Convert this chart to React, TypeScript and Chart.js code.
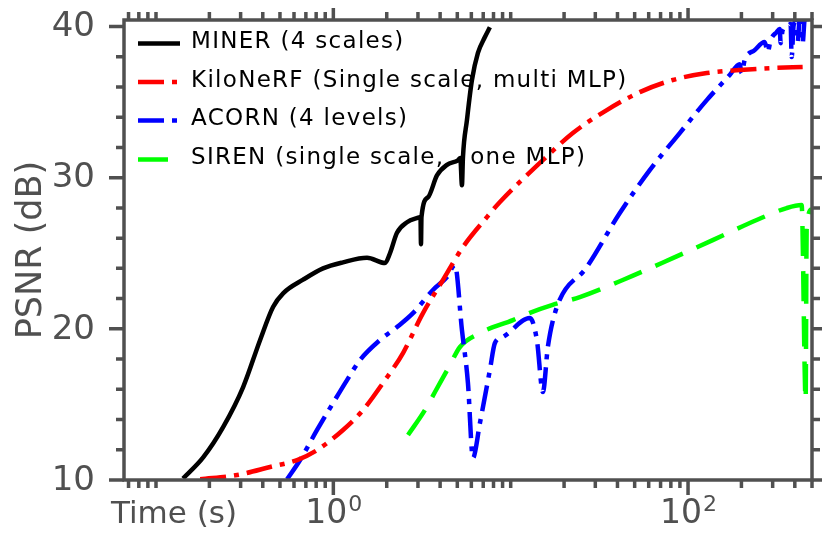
import React, { useEffect, useRef } from "react";
import { Chart, registerables } from "chart.js";

Chart.register(...registerables);

// ---------------- data ----------------
const minerTime = [0.142, 0.1845, 0.239, 0.31, 0.386, 0.457, 0.521, 0.675, 0.875, 1.134, 1.548, 1.956, 2.086, 2.285, 2.602, 3.0, 3.1, 3.12, 3.14, 3.416, 3.839, 4.371, 5.041, 5.2, 5.31, 5.38, 5.665, 6.045, 6.535, 7.155, 7.634];
const minerPsnr = [10.1, 11.5, 13.5, 16.15, 19.25, 21.45, 22.35, 23.25, 24.0, 24.4, 24.7, 24.35, 25.0, 26.35, 27.05, 27.35, 27.4, 25.6, 27.4, 28.7, 30.15, 30.85, 31.15, 31.3, 29.5, 31.35, 33.8, 36.45, 38.25, 39.3, 39.95];

const kiloTime = [0.1775, 0.2867, 0.4397, 0.6245, 0.8095, 1.134, 1.47, 1.905, 2.47, 3.202, 4.15, 5.379, 7.343, 8.696, 15.19, 22.41, 34.83, 53.44, 82.0, 127.5, 195.6, 300.1, 442.9];
const kiloPsnr = [10.05, 10.33, 10.86, 11.32, 11.98, 13.31, 14.63, 16.42, 18.4, 21.04, 23.23, 25.41, 27.39, 28.39, 31.16, 32.95, 34.47, 35.66, 36.46, 36.92, 37.12, 37.25, 37.32];

const acornTime = [0.5484, 0.6494, 0.8095, 0.9961, 1.194, 1.414, 1.833, 2.285, 2.812, 3.645, 4.371, 4.849, 5.31, 5.74, 6.124, 6.707, 7.634, 8.147, 9.04, 12.83, 14.05, 15.19, 16.2, 18.21, 26.88, 41.23, 60.84, 89.79, 127.5, 171.8, 195.6, 200.7, 208.6, 237.5, 270.5, 281.2, 292.4, 316.0, 328.6, 332.9, 341.6, 364.6, 378.9, 383.9, 394.0, 409.7, 415.0, 425.9, 437.1, 442.9, 454.6, 472.6, 491.2];
const acornPsnr = [10.05, 11.32, 13.31, 15.09, 16.61, 17.94, 19.26, 20.12, 21.04, 22.57, 23.43, 24.22, 19.92, 16.42, 11.46, 13.77, 17.28, 19.06, 19.46, 20.71, 19.26, 15.82, 18.8, 21.44, 24.09, 27.66, 30.5, 32.95, 35.13, 36.79, 37.51, 36.92, 37.78, 38.44, 38.97, 38.31, 39.1, 39.63, 39.83, 38.9, 39.76, 40.03, 40.16, 37.98, 40.09, 40.36, 38.97, 40.42, 40.29, 38.9, 40.42, 40.49, 40.56];

const sirenTime = [2.636, 3.286, 3.741, 4.545, 5.174, 6.707, 10.29, 13.16, 17.07, 24.54, 42.86, 82.0, 137.8, 243.8, 359.8, 437.1, 460.4, 466.4, 497.5];
const sirenPsnr = [12.98, 14.63, 15.82, 17.61, 18.8, 19.72, 20.58, 21.11, 21.57, 22.1, 23.23, 24.68, 25.87, 27.2, 27.99, 28.19, 15.29, 26.53, 27.92];

const seriesLabels = [
  "MINER (4 scales)",
  "KiloNeRF (Single scale, multi MLP)",
  "ACORN (4 levels)",
  "SIREN (single scale,   one MLP)",
];

const yMajorTicks = [10, 20, 30, 40];
const yMinorTicks = [12, 14, 16, 18, 22, 24, 26, 28, 32, 34, 36, 38];
const xMajorTicks = [1, 100];
const xMajorBase = ["10", "10"];
const xMajorExp = ["0", "2"];
const xMinorTicks = [0.07, 0.08, 0.09, 0.1, 0.2, 0.3, 0.4, 0.5, 0.6, 0.7, 0.8, 0.9, 2, 3, 4, 5, 6, 7, 8, 9, 10, 20, 30, 40, 50, 60, 70, 80, 90, 200, 300, 400, 500];

const xTitle = "Time (s)";
const yTitle = "PSNR (dB)";

// ---------------- style ----------------
const AXIS = "#505050";
const FONT = "'DejaVu Sans', sans-serif";
const LW = 4.5;

const pairs = (xs: number[], ys: number[]) => xs.map((x, i) => ({ x, y: ys[i] }));

const decorPlugin = {
  id: "decor",
  afterDatasetsDraw(chart: any) {
    const { ctx, chartArea: a, scales } = chart;
    const xs = scales.x;
    const ys = scales.y;
    ctx.save();
    ctx.strokeStyle = AXIS;
    ctx.lineWidth = 3.5;
    ctx.lineCap = "butt";
    ctx.setLineDash([]);
    ctx.strokeRect(a.left, a.top, a.right - a.left, a.bottom - a.top);
    const MAJ = 15;
    const MIN = 8;
    ctx.beginPath();
    const yTick = (v: number, len: number) => {
      const p = ys.getPixelForValue(v);
      ctx.moveTo(a.left, p);
      ctx.lineTo(a.left - len, p);
      ctx.moveTo(a.right, p);
      ctx.lineTo(a.right + len, p);
    };
    const xTick = (v: number, len: number) => {
      const p = xs.getPixelForValue(v);
      ctx.moveTo(p, a.bottom);
      ctx.lineTo(p, a.bottom + len);
      ctx.moveTo(p, a.top);
      ctx.lineTo(p, a.top - len);
    };
    yMajorTicks.forEach((v) => yTick(v, MAJ));
    yMinorTicks.forEach((v) => yTick(v, MIN));
    xMajorTicks.forEach((v) => xTick(v, MAJ));
    xMinorTicks.forEach((v) => xTick(v, MIN));
    ctx.stroke();

    // y tick labels
    ctx.fillStyle = AXIS;
    ctx.font = `34px ${FONT}`;
    ctx.textAlign = "right";
    ctx.textBaseline = "middle";
    yMajorTicks.forEach((v) => {
      ctx.fillText(String(v), 87, ys.getPixelForValue(v) + 1);
    });

    // x tick labels with superscript
    const baseY = 515;
    xMajorTicks.forEach((v, i) => {
      const p = xs.getPixelForValue(v);
      ctx.font = `33px ${FONT}`;
      const w1 = ctx.measureText(xMajorBase[i]).width;
      ctx.font = `22px ${FONT}`;
      const w2 = ctx.measureText(xMajorExp[i]).width;
      const x0 = p - (w1 + w2) / 2;
      ctx.textAlign = "left";
      ctx.textBaseline = "alphabetic";
      ctx.font = `33px ${FONT}`;
      ctx.fillText(xMajorBase[i], x0, baseY);
      ctx.font = `22px ${FONT}`;
      ctx.fillText(xMajorExp[i], x0 + w1 + 1, baseY - 12);
    });

    // axis titles
    ctx.font = `31px ${FONT}`;
    ctx.textAlign = "left";
    ctx.textBaseline = "alphabetic";
    ctx.fillText(xTitle, 103, baseY);

    ctx.save();
    ctx.translate(33, (a.top + a.bottom) / 2);
    ctx.rotate(-Math.PI / 2);
    ctx.textAlign = "center";
    ctx.font = `35px ${FONT}`;
    ctx.fillText(yTitle, 0, 0);
    ctx.restore();

    // legend
    const rows = [32, 70.5, 109, 148];
    chart.data.datasets.forEach((ds: any, i: number) => {
      const cy = rows[i];
      ctx.beginPath();
      ctx.strokeStyle = ds.borderColor;
      ctx.lineWidth = LW;
      ctx.setLineDash(ds.borderDash || []);
      ctx.moveTo(130, cy + 3.5);
      ctx.lineTo(i === 3 ? 162 : 172, cy + 3.5);
      ctx.stroke();
      ctx.setLineDash([]);
      ctx.fillStyle = "#000000";
      ctx.font = `23px ${FONT}`;
      ctx.textAlign = "left";
      ctx.textBaseline = "alphabetic";
      (ctx as any).letterSpacing = "1.3px";
      ctx.fillText(ds.label, 183, cy + 8.4);
      (ctx as any).letterSpacing = "0px";
    });
    ctx.restore();
  },
};

export default function App() {
  const ref = useRef<HTMLCanvasElement | null>(null);
  useEffect(() => {
    if (!ref.current) return;
    const common = {
      pointRadius: 0,
      borderWidth: LW,
      cubicInterpolationMode: "monotone" as const,
      fill: false,
      borderJoinStyle: "round" as const,
      borderCapStyle: "butt" as const,
    };
    const chart = new Chart(ref.current, {
      type: "line",
      data: {
        datasets: [
          { ...common, label: seriesLabels[0], data: pairs(minerTime, minerPsnr), borderColor: "#000000" },
          { ...common, label: seriesLabels[1], data: pairs(kiloTime, kiloPsnr), borderColor: "#ff0000", borderDash: [26, 8, 5, 8] },
          { ...common, label: seriesLabels[2], data: pairs(acornTime, acornPsnr), borderColor: "#0000ff", borderDash: [26, 8, 5, 8] },
          { ...common, label: seriesLabels[3], data: pairs(sirenTime, sirenPsnr), borderColor: "#00ff00", borderDash: [30, 15] },
        ],
      },
      options: {
        animation: false,
        responsive: false,
        events: [],
        layout: { padding: { left: 116, right: 10, top: 12, bottom: 56 } },
        scales: {
          x: { type: "logarithmic", min: 0.066, max: 500, display: false },
          y: { type: "linear", min: 10, max: 40.43, display: false },
        },
        plugins: { legend: { display: false }, tooltip: { enabled: false } },
      },
      plugins: [decorPlugin],
    });
    return () => chart.destroy();
  }, []);
  return <canvas ref={ref} width={814} height={528} style={{ display: "block" }} />;
}
